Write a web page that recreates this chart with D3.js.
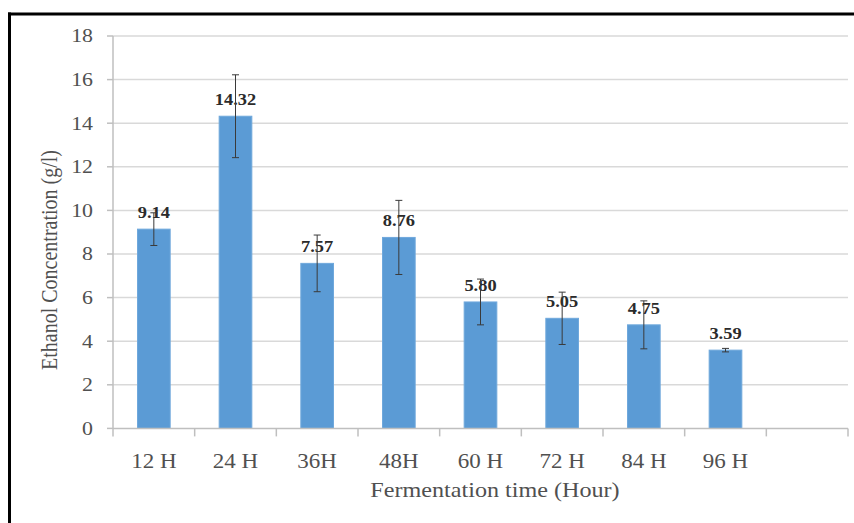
<!DOCTYPE html>
<html>
<head>
<meta charset="utf-8">
<script src="https://cdn.jsdelivr.net/npm/d3@7/dist/d3.min.js"></script>
<style>
  html, body { margin: 0; padding: 0; background: #fff; }
  svg { display: block; }
  text { font-family: "Liberation Serif", "Times New Roman", serif; }
</style>
</head>
<body>
<svg id="chart" width="854" height="523"></svg>
<script>
// Fermentation time slots (a trailing empty slot keeps the axis open on the right)
const categories = ["12 H", "24 H", "36H", "48H", "60 H", "72 H", "84 H", "96 H"];
const slots = categories.concat([""]);
// Mean ethanol concentration (g/l)
const ethanol = [9.14, 14.32, 7.57, 8.76, 5.80, 5.05, 4.75, 3.59];
// Error bar half-widths (g/l)
const errors = [0.75, 1.9, 1.3, 1.7, 1.05, 1.2, 1.1, 0.08];
const yTicks = [0, 2, 4, 6, 8, 10, 12, 14, 16, 18];

const svg = d3.select("#chart");
const W = 854, H = 523;
const plot = { left: 113, right: 848, top: 36, bottom: 428.4 };
const sx = 1.15; // horizontal widening of all lettering

svg.append("rect").attr("width", W).attr("height", H).attr("fill", "#fff");

// frame lines along the top and left edges
svg.append("line").attr("x1", 8).attr("x2", W).attr("y1", 14).attr("y2", 14)
  .attr("stroke", "#000").attr("stroke-width", 3);
svg.append("line").attr("x1", 9.5).attr("x2", 9.5).attr("y1", 12.5).attr("y2", H)
  .attr("stroke", "#000").attr("stroke-width", 3);

const x = d3.scaleBand().domain(slots).range([plot.left, plot.right]).padding(0);
const y = d3.scaleLinear().domain([0, 18]).range([plot.bottom, plot.top]);

function label(g, tx, ty, str, opts) {
  const t = g.append("text")
    .attr("transform", `translate(${tx},${ty}) scale(${sx},1)` + (opts.rotate ? ` rotate(${opts.rotate})` : ""))
    .attr("text-anchor", opts.anchor || "middle")
    .attr("font-size", opts.size)
    .attr("fill", opts.fill || "#505050")
    .text(str);
  if (opts.weight) t.attr("font-weight", opts.weight);
  if (opts.dy) t.attr("dy", opts.dy);
  return t;
}

// horizontal gridlines
svg.append("g").selectAll("line").data(yTicks.filter(d => d > 0)).join("line")
  .attr("x1", plot.left).attr("x2", plot.right)
  .attr("y1", d => y(d)).attr("y2", d => y(d))
  .attr("stroke", "#d9d9d9").attr("stroke-width", 1.5);

// y axis line and ticks
svg.append("line").attr("x1", plot.left).attr("x2", plot.left)
  .attr("y1", plot.top).attr("y2", plot.bottom)
  .attr("stroke", "#bfbfbf").attr("stroke-width", 1.5);
svg.append("g").selectAll("line").data(yTicks).join("line")
  .attr("x1", plot.left - 6).attr("x2", plot.left)
  .attr("y1", d => y(d)).attr("y2", d => y(d))
  .attr("stroke", "#bfbfbf").attr("stroke-width", 1.5);
const yLab = svg.append("g");
yTicks.forEach(d => label(yLab, 93, y(d), String(d), { anchor: "end", size: 19, dy: "0.34em" }));

// bars
const barW = x.bandwidth() * 0.4;
svg.append("g").selectAll("rect").data(ethanol).join("rect")
  .attr("x", (d, i) => x(categories[i]) + (x.bandwidth() - barW) / 2)
  .attr("width", barW)
  .attr("y", d => y(d))
  .attr("height", d => y(0) - y(d))
  .attr("fill", "#5b9bd5")
  .attr("stroke", "#6fa8dc").attr("stroke-width", 1);

// x axis line and ticks at slot boundaries
svg.append("line").attr("x1", plot.left).attr("x2", plot.right)
  .attr("y1", plot.bottom).attr("y2", plot.bottom)
  .attr("stroke", "#bfbfbf").attr("stroke-width", 1.5);
const bounds = slots.map(s => x(s)).concat([plot.right]);
svg.append("g").selectAll("line").data(bounds).join("line")
  .attr("x1", d => d).attr("x2", d => d)
  .attr("y1", plot.bottom).attr("y2", plot.bottom + 8)
  .attr("stroke", "#bfbfbf").attr("stroke-width", 1.5);

// data labels
const dLab = svg.append("g");
ethanol.forEach((d, i) => {
  label(dLab, x(categories[i]) + x.bandwidth() / 2, y(d) - 11, d.toFixed(2),
    { size: 16, weight: "bold", fill: "#2b2b2b" });
});

// error bars
const eb = svg.append("g").attr("stroke", "#3a3a3a").attr("stroke-width", 1);
ethanol.forEach((d, i) => {
  const cx = x(categories[i]) + x.bandwidth() / 2;
  const lo = y(d - errors[i]), hi = y(d + errors[i]);
  eb.append("line").attr("x1", cx).attr("x2", cx).attr("y1", lo).attr("y2", hi);
  eb.append("line").attr("x1", cx - 3.5).attr("x2", cx + 3.5).attr("y1", lo).attr("y2", lo);
  eb.append("line").attr("x1", cx - 3.5).attr("x2", cx + 3.5).attr("y1", hi).attr("y2", hi);
});

// category labels
const xLab = svg.append("g");
categories.forEach(c => label(xLab, x(c) + x.bandwidth() / 2, 468, c, { size: 20 }));

// axis titles
label(svg, 495, 497, "Fermentation time (Hour)", { size: 21 });
label(svg, 57, 260, "Ethanol Concentration (g/l)", { size: 20, rotate: -90 });
</script>
</body>
</html>
